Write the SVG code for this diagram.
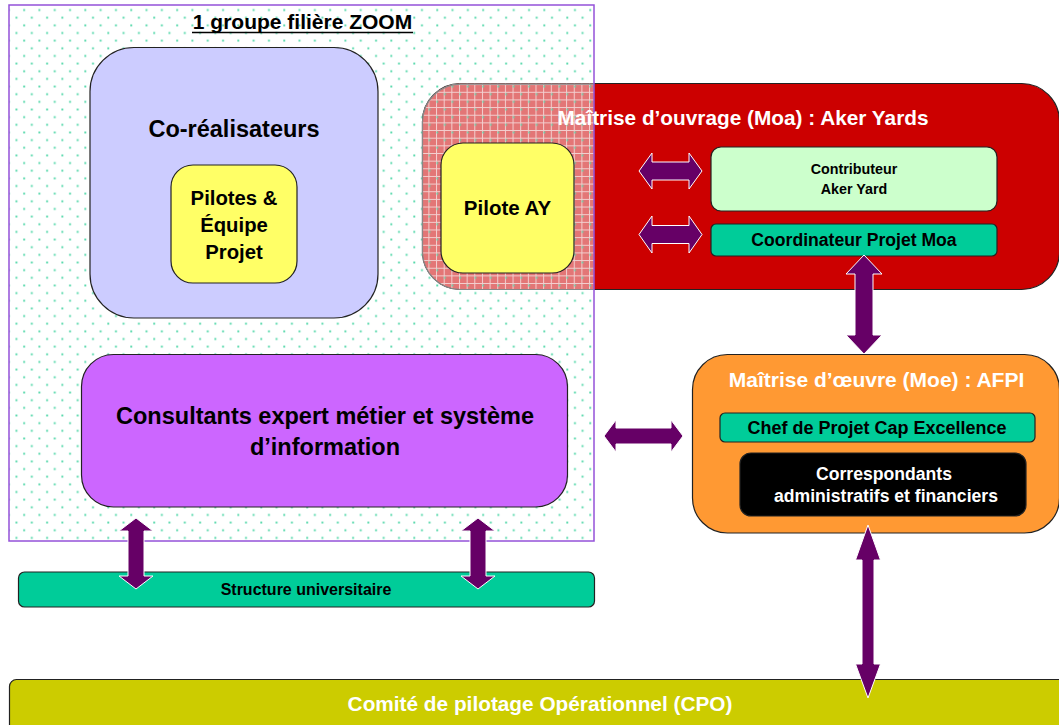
<svg xmlns="http://www.w3.org/2000/svg" width="1059" height="725" viewBox="0 0 1059 725">
<style>
  text { font-family: "Liberation Sans", Arial, sans-serif; font-weight: bold; text-anchor: middle; }
  .dark { fill: #000; }
  .light { fill: #fff; }
  .box { stroke: #222; stroke-width: 1.2; }
  .arrow { fill: #660066; stroke: #fff; stroke-width: 1; stroke-linejoin: miter; }
</style>
<defs>
  <pattern id="dots" patternUnits="userSpaceOnUse" x="0" y="0" width="15.3" height="15.3">
    <rect x="7.9" y="9.1" width="1.9" height="1.9" fill="#55d8aa"/>
    <rect x="0.25" y="1.45" width="1.9" height="1.9" fill="#55d8aa"/>
  </pattern>
  <pattern id="grid" patternUnits="userSpaceOnUse" x="0" y="0" width="7.65" height="7.65">
    <rect width="7.65" height="7.65" fill="#e37676"/>
    <path d="M0 0.5 H7.65 M0.5 0 V7.65" stroke="#f3d0d0" stroke-width="1"/>
  </pattern>
  <clipPath id="moaClip">
    <rect x="422.5" y="83.5" width="637" height="206" rx="38"/>
  </clipPath>
</defs>

<g id="zoom-group-bg">
  <rect x="9" y="5" width="585" height="536" fill="#fff"/>
  <rect x="9" y="5" width="585" height="536" fill="url(#dots)"/>
</g>

<g id="moa">
  <rect class="box" x="422.5" y="83.5" width="637" height="206" rx="38" fill="#cc0000"/>
  <g clip-path="url(#moaClip)">
    <rect x="422" y="83" width="172" height="208" fill="url(#grid)"/>
    <rect x="422" y="83" width="172" height="208" fill="url(#dots)" opacity="0.8"/>
  </g>
  <path d="M594 84.1 H460.5 A38 38 0 0 0 422.5 121.5 V251.5 A38 38 0 0 0 460.5 289.5 H594" fill="none" stroke="#888" stroke-width="1.2"/>
</g>

<g id="zoom-group">
  <rect x="9" y="5" width="585" height="536" fill="none" stroke="#9452d9" stroke-width="1.5"/>
  <text class="dark" x="302.5" y="29" font-size="21">1 groupe filière ZOOM</text>
  <line x1="192" y1="32.5" x2="413" y2="32.5" stroke="#000" stroke-width="1.5"/>
</g>

<g id="co-realisateurs">
  <rect class="box" x="90" y="47.5" width="288" height="270.5" rx="44" fill="#ccccff"/>
  <text class="dark" x="234" y="137" font-size="23.5">Co-réalisateurs</text>
</g>

<g id="pilotes-equipe">
  <rect class="box" x="171" y="165" width="126" height="118" rx="22" fill="#ffff66"/>
  <text class="dark" font-size="20.3"><tspan x="234" y="205">Pilotes &amp;</tspan><tspan x="234" y="232">Équipe</tspan><tspan x="234" y="259">Projet</tspan></text>
</g>

<g id="pilote-ay">
  <rect class="box" x="441" y="143" width="133" height="130" rx="22" fill="#ffff66"/>
  <text class="dark" x="507.5" y="215" font-size="20.5">Pilote AY</text>
</g>

<g id="moa-title">
  <text class="light" x="743" y="125" font-size="20.8">Maîtrise d’ouvrage (Moa) : Aker Yards</text>
</g>

<g id="contributeur">
  <rect class="box" x="711" y="147" width="286" height="64" rx="10" fill="#ccffcc"/>
  <text class="dark" font-size="14.3"><tspan x="854" y="174">Contributeur</tspan><tspan x="854" y="194">Aker Yard</tspan></text>
</g>

<g id="coordinateur">
  <rect class="box" x="711" y="224" width="286" height="32" rx="5" fill="#00cc99"/>
  <text class="dark" x="854" y="246" font-size="17.6">Coordinateur Projet Moa</text>
</g>

<g id="consultants">
  <rect class="box" x="81.5" y="354.5" width="486" height="152.5" rx="32" fill="#cc66ff"/>
  <text class="dark" font-size="23.5"><tspan x="325" y="424">Consultants expert métier et système</tspan><tspan x="325" y="455">d’information</tspan></text>
</g>

<g id="moe">
  <rect class="box" x="692.5" y="354.5" width="367" height="178.5" rx="35" fill="#ff9933"/>
  <text class="light" x="876.5" y="387" font-size="21">Maîtrise d’œuvre (Moe) : AFPI</text>
</g>

<g id="chef-projet">
  <rect class="box" x="720" y="413" width="315" height="29" rx="5" fill="#00cc99"/>
  <text class="dark" x="877" y="434" font-size="18">Chef de Projet Cap Excellence</text>
</g>

<g id="correspondants">
  <rect class="box" x="740" y="453" width="286" height="63" rx="11" fill="#000"/>
  <text class="light" font-size="17.6"><tspan x="884" y="480">Correspondants</tspan><tspan x="886" y="502">administratifs et financiers</tspan></text>
</g>

<g id="structure-universitaire">
  <rect class="box" x="18.5" y="572" width="576" height="35" rx="6" fill="#00cc99"/>
  <text class="dark" x="306" y="595" font-size="16">Structure universitaire</text>
</g>

<g id="cpo">
  <rect class="box" x="9.5" y="679.5" width="1060" height="60" rx="7" fill="#cccc00"/>
  <text class="light" x="540" y="711" font-size="20.8">Comité de pilotage Opérationnel (CPO)</text>
</g>

<g id="connectors">
  <polygon class="arrow" points="639,171 652,153 652,162 689,162 689,153 702,171 689,189 689,180 652,180 652,189"/>
  <polygon class="arrow" points="639,234.5 652,216 652,225.5 689,225.5 689,216 702,234.5 689,253 689,243.5 652,243.5 652,253"/>
  <polygon class="arrow" points="864,255 882,274 873,274 873,335 882,335 864,354 846,335 855,335 855,274 846,274"/>
  <polygon class="arrow" points="604,436 616,420 616,428 671,428 671,420 683,436 671,452 671,444 616,444 616,452"/>
  <polygon class="arrow" points="868,525 880.5,560 874,560 874,664 880.5,664 868,698 855.5,664 862,664 862,560 855.5,560"/>
  <polygon class="arrow" points="136,518 153,531 144,531 144,576 153,576 136,589 119,576 128,576 128,531 119,531"/>
  <polygon class="arrow" points="478,518 495,531 486,531 486,576 495,576 478,589 461,576 470,576 470,531 461,531"/>
</g>
</svg>
